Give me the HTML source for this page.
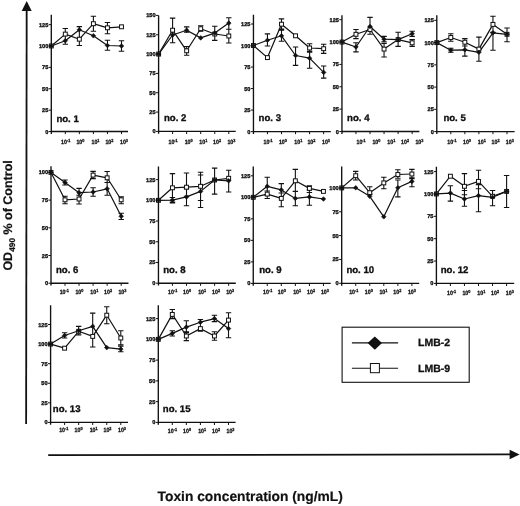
<!DOCTYPE html>
<html><head><meta charset="utf-8">
<style>
html,body{margin:0;padding:0;background:#fff;}
body{width:520px;height:506px;overflow:hidden;}
svg{display:block;filter:blur(0.3px);}
text{font-family:"Liberation Sans",sans-serif;font-weight:bold;fill:#111;text-rendering:geometricPrecision;}
.ax{fill:none;stroke:#111;stroke-width:1.35;}
.tk{fill:none;stroke:#111;stroke-width:1;}
.eb{fill:none;stroke:#111;stroke-width:1.1;}
.ln{fill:none;stroke:#111;stroke-width:1.2;stroke-linejoin:round;}
.sq{fill:#fff;stroke:#111;stroke-width:1;}
.dm{fill:#111;stroke:#111;stroke-width:0.6;stroke-linejoin:round;}
.yl{font-size:5.6px;text-anchor:end;stroke:#111;stroke-width:0.35px;}
.xl{font-size:6.1px;stroke:#111;stroke-width:0.3px;}
.sp{font-size:4.4px;}
.pl{font-size:9.6px;stroke:#111;stroke-width:0.35px;}
.big{font-size:12.5px;stroke:#111;stroke-width:0.2px;}
.xlab{font-size:13.8px;stroke:#111;stroke-width:0.2px;}
.lg{font-size:10.5px;stroke:#111;stroke-width:0.3px;}
</style></head><body>
<svg width="520" height="506" viewBox="0 0 520 506">
<rect width="520" height="506" fill="#fff"/>
<!-- big axes -->
<path d="M26.68 11L26.12 424" stroke="#111" stroke-width="1.8" fill="none"/>
<path d="M26.7 0.9L31.7 11H21.7Z" fill="#111"/>
<path d="M48.2 455.1L510 454.4" stroke="#111" stroke-width="1.8" fill="none"/>
<path d="M519.6 454.4L509.6 449.8V459.2Z" fill="#111"/>
<text class="big" transform="translate(11.5 270.6) rotate(-90)">OD<tspan font-size="8.3px" dy="3">490</tspan><tspan dy="-3"> % of Control</tspan></text>
<text class="xlab" x="157.6" y="500.8">Toxin concentration (ng/mL)</text>
<!-- legend -->
<rect x="342.1" y="327.2" width="127.1" height="55.1" fill="none" stroke="#111" stroke-width="1.1"/>
<path d="M351.9 342.9H398.1" stroke="#111" stroke-width="1.4" fill="none"/><path d="M351.9 368.2H398.1" stroke="#111" stroke-width="1.05" fill="none"/>
<path d="M374.8 336.5L382 343.1L374.8 349.7L367.6 343.1Z" fill="#111"/>
<rect x="370.4" y="363.5" width="9" height="9.2" fill="#fff" stroke="#111" stroke-width="1"/>
<text class="lg" x="418.1" y="345.8">LMB-2</text>
<text class="lg" x="418.1" y="371.9">LMB-9</text>
<g><path d="M51.3 14.8V133.9M51.3 131.5H128" class="ax"/>
<path d="M48.7 131.5H51.3M48.7 110.12H51.3M48.7 88.74H51.3M48.7 67.36H51.3M48.7 45.98H51.3M48.7 24.6H51.3M65.3 131.5V134.1M79.35 131.5V134.1M93.4 131.5V134.1M107.45 131.5V134.1M121.5 131.5V134.1" class="tk"/>
<text x="48.3" y="133.5" class="yl">0</text>
<text x="48.3" y="112.12" class="yl">25</text>
<text x="48.3" y="90.74" class="yl">50</text>
<text x="48.3" y="69.36" class="yl">75</text>
<text x="48.3" y="47.98" class="yl">100</text>
<text x="48.3" y="26.6" class="yl">125</text>
<text transform="translate(61.1 143.7) scale(0.86 1)" class="xl">10<tspan class="sp" dy="-1.9">-1</tspan></text>
<text transform="translate(76.4 143.7) scale(0.86 1)" class="xl">10<tspan class="sp" dy="-1.9">0</tspan></text>
<text transform="translate(91.5 143.7) scale(0.86 1)" class="xl">10<tspan class="sp" dy="-1.9">1</tspan></text>
<text transform="translate(105.4 143.7) scale(0.86 1)" class="xl">10<tspan class="sp" dy="-1.9">2</tspan></text>
<text transform="translate(120 143.7) scale(0.86 1)" class="xl">10<tspan class="sp" dy="-1.9">3</tspan></text>
<text x="56.4" y="121.6" class="pl">no. 1</text>
<path d="M65.3 28.5V44.2M62.6 28.5H68M62.6 44.2H68M79.35 26.6V45.5M76.65 26.6H82.05M76.65 45.5H82.05M93.4 16.3V31.2M90.7 16.3H96.1M90.7 31.2H96.1M107.45 22.5V33.7M104.75 22.5H110.15M104.75 33.7H110.15M107.45 40.3V50.2M104.75 40.3H110.15M104.75 50.2H110.15M121.5 40.8V51.2M118.8 40.8H124.2M118.8 51.2H124.2" class="eb"/>
<path d="M51.3 45.98 L65.3 40.7 L79.35 29.8 L93.4 35.8 L107.45 45.5 L121.5 46" class="ln"/>
<path d="M51.3 45.98 L65.3 34.1 L79.35 39.2 L93.4 23.7 L107.45 27.8 L121.5 26.8" class="ln"/>
<rect x="49.35" y="44.03" width="3.9" height="3.9" class="sq"/>
<rect x="63.35" y="32.15" width="3.9" height="3.9" class="sq"/>
<rect x="77.4" y="37.25" width="3.9" height="3.9" class="sq"/>
<rect x="91.45" y="21.75" width="3.9" height="3.9" class="sq"/>
<rect x="105.5" y="25.85" width="3.9" height="3.9" class="sq"/>
<rect x="119.55" y="24.85" width="3.9" height="3.9" class="sq"/>
<path d="M51.3 43.68l2.3 2.3l-2.3 2.3l-2.3 -2.3z" class="dm"/>
<path d="M65.3 38.4l2.3 2.3l-2.3 2.3l-2.3 -2.3z" class="dm"/>
<path d="M79.35 27.5l2.3 2.3l-2.3 2.3l-2.3 -2.3z" class="dm"/>
<path d="M93.4 33.5l2.3 2.3l-2.3 2.3l-2.3 -2.3z" class="dm"/>
<path d="M107.45 43.2l2.3 2.3l-2.3 2.3l-2.3 -2.3z" class="dm"/>
<path d="M121.5 43.7l2.3 2.3l-2.3 2.3l-2.3 -2.3z" class="dm"/></g>
<g><path d="M158.6 15.4V133.8M158.6 131.4H235.7" class="ax"/>
<path d="M156 131.4H158.6M156 112.07H158.6M156 92.74H158.6M156 73.41H158.6M156 54.08H158.6M156 34.75H158.6M156 15.42H158.6M172.6 131.4V134M186.65 131.4V134M200.7 131.4V134M214.75 131.4V134M228.8 131.4V134" class="tk"/>
<text x="155.6" y="133.4" class="yl">0</text>
<text x="155.6" y="114.07" class="yl">25</text>
<text x="155.6" y="94.74" class="yl">50</text>
<text x="155.6" y="75.41" class="yl">75</text>
<text x="155.6" y="56.08" class="yl">100</text>
<text x="155.6" y="36.75" class="yl">125</text>
<text x="155.6" y="17.42" class="yl">150</text>
<text transform="translate(168.5 143.7) scale(0.86 1)" class="xl">10<tspan class="sp" dy="-1.9">-1</tspan></text>
<text transform="translate(184.7 143.7) scale(0.86 1)" class="xl">10<tspan class="sp" dy="-1.9">0</tspan></text>
<text transform="translate(199.3 143.7) scale(0.86 1)" class="xl">10<tspan class="sp" dy="-1.9">1</tspan></text>
<text transform="translate(213.1 143.7) scale(0.86 1)" class="xl">10<tspan class="sp" dy="-1.9">2</tspan></text>
<text transform="translate(227.4 143.7) scale(0.86 1)" class="xl">10<tspan class="sp" dy="-1.9">3</tspan></text>
<text x="164" y="121.3" class="pl">no. 2</text>
<path d="M172.6 18.1V42.7M169.9 18.1H175.3M169.9 42.7H175.3M186.65 26.9V32.1M183.95 26.9H189.35M183.95 32.1H189.35M186.65 46.5V55.2M183.95 46.5H189.35M183.95 55.2H189.35M200.7 25.8V31.2M198 25.8H203.4M198 31.2H203.4M214.75 26.3V40.4M212.05 26.3H217.45M212.05 40.4H217.45M228.8 17.7V29.2M226.1 17.7H231.5M226.1 29.2H231.5M228.8 29.2V43M226.1 29.2H231.5M226.1 43H231.5" class="eb"/>
<path d="M158.6 54.08 L172.6 35 L186.65 30.2 L200.7 37.9 L214.75 33.1 L228.8 23.1" class="ln"/>
<path d="M158.6 54.08 L172.6 30.2 L186.65 50.8 L200.7 28.7 L214.75 34 L228.8 36" class="ln"/>
<rect x="156.65" y="52.13" width="3.9" height="3.9" class="sq"/>
<rect x="170.65" y="28.25" width="3.9" height="3.9" class="sq"/>
<rect x="184.7" y="48.85" width="3.9" height="3.9" class="sq"/>
<rect x="198.75" y="26.75" width="3.9" height="3.9" class="sq"/>
<rect x="212.8" y="32.05" width="3.9" height="3.9" class="sq"/>
<rect x="226.85" y="34.05" width="3.9" height="3.9" class="sq"/>
<path d="M158.6 51.78l2.3 2.3l-2.3 2.3l-2.3 -2.3z" class="dm"/>
<path d="M172.6 32.7l2.3 2.3l-2.3 2.3l-2.3 -2.3z" class="dm"/>
<path d="M186.65 27.9l2.3 2.3l-2.3 2.3l-2.3 -2.3z" class="dm"/>
<path d="M200.7 35.6l2.3 2.3l-2.3 2.3l-2.3 -2.3z" class="dm"/>
<path d="M214.75 30.8l2.3 2.3l-2.3 2.3l-2.3 -2.3z" class="dm"/>
<path d="M228.8 20.8l2.3 2.3l-2.3 2.3l-2.3 -2.3z" class="dm"/></g>
<g><path d="M253.45 14.7V134M253.45 131.6H330.8" class="ax"/>
<path d="M250.85 131.6H253.45M250.85 110.08H253.45M250.85 88.56H253.45M250.85 67.04H253.45M250.85 45.52H253.45M250.85 24H253.45M267.45 131.6V134.2M281.5 131.6V134.2M295.55 131.6V134.2M309.6 131.6V134.2M323.65 131.6V134.2" class="tk"/>
<text x="250.45" y="133.6" class="yl">0</text>
<text x="250.45" y="112.08" class="yl">25</text>
<text x="250.45" y="90.56" class="yl">50</text>
<text x="250.45" y="69.04" class="yl">75</text>
<text x="250.45" y="47.52" class="yl">100</text>
<text x="250.45" y="26" class="yl">125</text>
<text transform="translate(263.5 143.7) scale(0.86 1)" class="xl">10<tspan class="sp" dy="-1.9">-1</tspan></text>
<text transform="translate(278.9 143.7) scale(0.86 1)" class="xl">10<tspan class="sp" dy="-1.9">0</tspan></text>
<text transform="translate(294.3 143.7) scale(0.86 1)" class="xl">10<tspan class="sp" dy="-1.9">1</tspan></text>
<text transform="translate(307.4 143.7) scale(0.86 1)" class="xl">10<tspan class="sp" dy="-1.9">2</tspan></text>
<text transform="translate(322 143.7) scale(0.86 1)" class="xl">10<tspan class="sp" dy="-1.9">3</tspan></text>
<text x="258.6" y="121" class="pl">no. 3</text>
<path d="M267.45 33.9V46M264.75 33.9H270.15M264.75 46H270.15M281.5 18.9V29M278.8 18.9H284.2M278.8 29H284.2M281.5 30.1V41.3M278.8 30.1H284.2M278.8 41.3H284.2M295.55 47V65.4M292.85 47H298.25M292.85 65.4H298.25M309.6 43.8V52.3M306.9 43.8H312.3M306.9 52.3H312.3M309.6 51.3V68.2M306.9 51.3H312.3M306.9 68.2H312.3M323.65 44.3V53.4M320.95 44.3H326.35M320.95 53.4H326.35M323.65 66V78.1M320.95 66H326.35M320.95 78.1H326.35" class="eb"/>
<path d="M253.45 45.52 L267.45 40.3 L281.5 35.8 L295.55 55.5 L309.6 58.2 L323.65 72.4" class="ln"/>
<path d="M253.45 45.52 L267.45 57.6 L281.5 24.2 L295.55 35.8 L309.6 48 L323.65 48.7" class="ln"/>
<rect x="251.5" y="43.57" width="3.9" height="3.9" class="sq"/>
<rect x="265.5" y="55.65" width="3.9" height="3.9" class="sq"/>
<rect x="279.55" y="22.25" width="3.9" height="3.9" class="sq"/>
<rect x="293.6" y="33.85" width="3.9" height="3.9" class="sq"/>
<rect x="307.65" y="46.05" width="3.9" height="3.9" class="sq"/>
<rect x="321.7" y="46.75" width="3.9" height="3.9" class="sq"/>
<path d="M253.45 43.22l2.3 2.3l-2.3 2.3l-2.3 -2.3z" class="dm"/>
<path d="M267.45 38l2.3 2.3l-2.3 2.3l-2.3 -2.3z" class="dm"/>
<path d="M281.5 33.5l2.3 2.3l-2.3 2.3l-2.3 -2.3z" class="dm"/>
<path d="M295.55 53.2l2.3 2.3l-2.3 2.3l-2.3 -2.3z" class="dm"/>
<path d="M309.6 55.9l2.3 2.3l-2.3 2.3l-2.3 -2.3z" class="dm"/>
<path d="M323.65 70.1l2.3 2.3l-2.3 2.3l-2.3 -2.3z" class="dm"/></g>
<g><path d="M341.95 15.3V133.9M341.95 131.5H419.4" class="ax"/>
<path d="M339.35 131.5H341.95M339.35 109.14H341.95M339.35 86.78H341.95M339.35 64.42H341.95M339.35 42.06H341.95M339.35 19.7H341.95M355.95 131.5V134.1M370 131.5V134.1M384.05 131.5V134.1M398.1 131.5V134.1M412.15 131.5V134.1" class="tk"/>
<text x="338.95" y="133.5" class="yl">0</text>
<text x="338.95" y="111.14" class="yl">25</text>
<text x="338.95" y="88.78" class="yl">50</text>
<text x="338.95" y="66.42" class="yl">75</text>
<text x="338.95" y="44.06" class="yl">100</text>
<text x="338.95" y="21.7" class="yl">125</text>
<text transform="translate(356.5 143.7) scale(0.86 1)" class="xl">10<tspan class="sp" dy="-1.9">-1</tspan></text>
<text transform="translate(372.4 143.7) scale(0.86 1)" class="xl">10<tspan class="sp" dy="-1.9">0</tspan></text>
<text transform="translate(387.3 143.7) scale(0.86 1)" class="xl">10<tspan class="sp" dy="-1.9">1</tspan></text>
<text transform="translate(401.1 143.7) scale(0.86 1)" class="xl">10<tspan class="sp" dy="-1.9">2</tspan></text>
<text transform="translate(415.4 143.7) scale(0.86 1)" class="xl">10<tspan class="sp" dy="-1.9">3</tspan></text>
<text x="347.1" y="121" class="pl">no. 4</text>
<path d="M355.95 29.5V38.6M353.25 29.5H358.65M353.25 38.6H358.65M355.95 42.8V51.9M353.25 42.8H358.65M353.25 51.9H358.65M370 17.4V34.3M367.3 17.4H372.7M367.3 34.3H372.7M384.05 36.4V41.7M381.35 36.4H386.75M381.35 41.7H386.75M384.05 43.4V57M381.35 43.4H386.75M381.35 57H386.75M398.1 32.2V46.4M395.4 32.2H400.8M395.4 46.4H400.8M412.15 31.2V36.4M409.45 31.2H414.85M409.45 36.4H414.85M412.15 39.6V46.4M409.45 39.6H414.85M409.45 46.4H414.85" class="eb"/>
<path d="M341.95 42.06 L355.95 47 L370 26.5 L384.05 39.2 L398.1 39.6 L412.15 33.7" class="ln"/>
<path d="M341.95 42.06 L355.95 34.3 L370 29.5 L384.05 49.1 L398.1 39.6 L412.15 42.8" class="ln"/>
<rect x="340" y="40.11" width="3.9" height="3.9" class="sq"/>
<rect x="354" y="32.35" width="3.9" height="3.9" class="sq"/>
<rect x="368.05" y="27.55" width="3.9" height="3.9" class="sq"/>
<rect x="382.1" y="47.15" width="3.9" height="3.9" class="sq"/>
<rect x="396.15" y="37.65" width="3.9" height="3.9" class="sq"/>
<rect x="410.2" y="40.85" width="3.9" height="3.9" class="sq"/>
<path d="M341.95 39.76l2.3 2.3l-2.3 2.3l-2.3 -2.3z" class="dm"/>
<path d="M355.95 44.7l2.3 2.3l-2.3 2.3l-2.3 -2.3z" class="dm"/>
<path d="M370 24.2l2.3 2.3l-2.3 2.3l-2.3 -2.3z" class="dm"/>
<path d="M384.05 36.9l2.3 2.3l-2.3 2.3l-2.3 -2.3z" class="dm"/>
<path d="M398.1 37.3l2.3 2.3l-2.3 2.3l-2.3 -2.3z" class="dm"/>
<path d="M412.15 31.4l2.3 2.3l-2.3 2.3l-2.3 -2.3z" class="dm"/></g>
<g><path d="M436.8 15.3V134M436.8 131.6H514.6" class="ax"/>
<path d="M434.2 131.6H436.8M434.2 109.35H436.8M434.2 87.1H436.8M434.2 64.85H436.8M434.2 42.6H436.8M434.2 20.35H436.8M450.8 131.6V134.2M464.85 131.6V134.2M478.9 131.6V134.2M492.95 131.6V134.2M507 131.6V134.2" class="tk"/>
<text x="433.8" y="133.6" class="yl">0</text>
<text x="433.8" y="111.35" class="yl">25</text>
<text x="433.8" y="89.1" class="yl">50</text>
<text x="433.8" y="66.85" class="yl">75</text>
<text x="433.8" y="44.6" class="yl">100</text>
<text x="433.8" y="22.35" class="yl">125</text>
<text transform="translate(447.3 143.7) scale(0.86 1)" class="xl">10<tspan class="sp" dy="-1.9">-1</tspan></text>
<text transform="translate(463 143.7) scale(0.86 1)" class="xl">10<tspan class="sp" dy="-1.9">0</tspan></text>
<text transform="translate(477.8 143.7) scale(0.86 1)" class="xl">10<tspan class="sp" dy="-1.9">1</tspan></text>
<text transform="translate(491.6 143.7) scale(0.86 1)" class="xl">10<tspan class="sp" dy="-1.9">2</tspan></text>
<text transform="translate(505.8 143.7) scale(0.86 1)" class="xl">10<tspan class="sp" dy="-1.9">3</tspan></text>
<text x="443.4" y="121" class="pl">no. 5</text>
<path d="M450.8 33.7V41.3M448.1 33.7H453.5M448.1 41.3H453.5M450.8 48.3V52.2M448.1 48.3H453.5M448.1 52.2H453.5M464.85 38.6V46M462.15 38.6H467.55M462.15 46H467.55M464.85 46V56.1M462.15 46H467.55M462.15 56.1H467.55M478.9 37.1V61.2M476.2 37.1H481.6M476.2 61.2H481.6M492.95 16.3V32.2M490.25 16.3H495.65M490.25 32.2H495.65M492.95 32.8V50.2M490.25 32.8H495.65M490.25 50.2H495.65M507 28V41.7M504.3 28H509.7M504.3 41.7H509.7" class="eb"/>
<path d="M436.8 42.6 L450.8 50.2 L464.85 49.8 L478.9 52.3 L492.95 32.8 L507 34.3" class="ln"/>
<path d="M436.8 42.6 L450.8 37.5 L464.85 42.2 L478.9 49.1 L492.95 24.4 L507 34.3" class="ln"/>
<rect x="434.85" y="40.65" width="3.9" height="3.9" class="sq"/>
<rect x="448.85" y="35.55" width="3.9" height="3.9" class="sq"/>
<rect x="462.9" y="40.25" width="3.9" height="3.9" class="sq"/>
<rect x="476.95" y="47.15" width="3.9" height="3.9" class="sq"/>
<rect x="491" y="22.45" width="3.9" height="3.9" class="sq"/>
<rect x="505.05" y="32.35" width="3.9" height="3.9" class="sq"/>
<path d="M436.8 40.3l2.3 2.3l-2.3 2.3l-2.3 -2.3z" class="dm"/>
<path d="M450.8 47.9l2.3 2.3l-2.3 2.3l-2.3 -2.3z" class="dm"/>
<path d="M464.85 47.5l2.3 2.3l-2.3 2.3l-2.3 -2.3z" class="dm"/>
<path d="M478.9 50l2.3 2.3l-2.3 2.3l-2.3 -2.3z" class="dm"/>
<path d="M492.95 30.5l2.3 2.3l-2.3 2.3l-2.3 -2.3z" class="dm"/>
<path d="M507 32l2.3 2.3l-2.3 2.3l-2.3 -2.3z" class="dm"/></g>
<g><path d="M51 166.3V285.6M51 283.2H128.5" class="ax"/>
<path d="M48.4 283.2H51M48.4 255.5H51M48.4 227.8H51M48.4 200.1H51M48.4 172.4H51M65 283.2V285.8M79.05 283.2V285.8M93.1 283.2V285.8M107.15 283.2V285.8M121.2 283.2V285.8" class="tk"/>
<text x="48" y="285.2" class="yl">0</text>
<text x="48" y="257.5" class="yl">25</text>
<text x="48" y="229.8" class="yl">50</text>
<text x="48" y="202.1" class="yl">75</text>
<text x="48" y="174.4" class="yl">100</text>
<text transform="translate(59.7 293.7) scale(0.86 1)" class="xl">10<tspan class="sp" dy="-1.9">-1</tspan></text>
<text transform="translate(75.4 293.7) scale(0.86 1)" class="xl">10<tspan class="sp" dy="-1.9">0</tspan></text>
<text transform="translate(90.3 293.7) scale(0.86 1)" class="xl">10<tspan class="sp" dy="-1.9">1</tspan></text>
<text transform="translate(104.1 293.7) scale(0.86 1)" class="xl">10<tspan class="sp" dy="-1.9">2</tspan></text>
<text transform="translate(118.4 293.7) scale(0.86 1)" class="xl">10<tspan class="sp" dy="-1.9">3</tspan></text>
<text x="56" y="273.2" class="pl">no. 6</text>
<path d="M65 180V185M62.3 180H67.7M62.3 185H67.7M65 196.3V203.7M62.3 196.3H67.7M62.3 203.7H67.7M79.05 188.4V195.2M76.35 188.4H81.75M76.35 195.2H81.75M79.05 195.2V204M76.35 195.2H81.75M76.35 204H81.75M93.1 171.4V178.6M90.4 171.4H95.8M90.4 178.6H95.8M93.1 187.8V196.3M90.4 187.8H95.8M90.4 196.3H95.8M107.15 171.5V182.5M104.45 171.5H109.85M104.45 182.5H109.85M107.15 182.5V195.2M104.45 182.5H109.85M104.45 195.2H109.85M121.2 196.9V203.7M118.5 196.9H123.9M118.5 203.7H123.9M121.2 213.2V219.5M118.5 213.2H123.9M118.5 219.5H123.9" class="eb"/>
<path d="M51 172.4 L65 182.5 L79.05 192.7 L93.1 192 L107.15 188.8 L121.2 216.3" class="ln"/>
<path d="M51 172.4 L65 199.8 L79.05 199 L93.1 175.1 L107.15 177.8 L121.2 199.8" class="ln"/>
<rect x="49.05" y="170.45" width="3.9" height="3.9" class="sq"/>
<rect x="63.05" y="197.85" width="3.9" height="3.9" class="sq"/>
<rect x="77.1" y="197.05" width="3.9" height="3.9" class="sq"/>
<rect x="91.15" y="173.15" width="3.9" height="3.9" class="sq"/>
<rect x="105.2" y="175.85" width="3.9" height="3.9" class="sq"/>
<rect x="119.25" y="197.85" width="3.9" height="3.9" class="sq"/>
<path d="M51 170.1l2.3 2.3l-2.3 2.3l-2.3 -2.3z" class="dm"/>
<path d="M65 180.2l2.3 2.3l-2.3 2.3l-2.3 -2.3z" class="dm"/>
<path d="M79.05 190.4l2.3 2.3l-2.3 2.3l-2.3 -2.3z" class="dm"/>
<path d="M93.1 189.7l2.3 2.3l-2.3 2.3l-2.3 -2.3z" class="dm"/>
<path d="M107.15 186.5l2.3 2.3l-2.3 2.3l-2.3 -2.3z" class="dm"/>
<path d="M121.2 214l2.3 2.3l-2.3 2.3l-2.3 -2.3z" class="dm"/></g>
<g><path d="M158.45 166.6V285.6M158.45 283.2H235.8" class="ax"/>
<path d="M155.85 283.2H158.45M155.85 262.48H158.45M155.85 241.76H158.45M155.85 221.04H158.45M155.85 200.32H158.45M155.85 179.6H158.45M172.45 283.2V285.8M186.5 283.2V285.8M200.55 283.2V285.8M214.6 283.2V285.8M228.65 283.2V285.8" class="tk"/>
<text x="155.45" y="285.2" class="yl">0</text>
<text x="155.45" y="264.48" class="yl">25</text>
<text x="155.45" y="243.76" class="yl">50</text>
<text x="155.45" y="223.04" class="yl">75</text>
<text x="155.45" y="202.32" class="yl">100</text>
<text x="155.45" y="181.6" class="yl">125</text>
<text transform="translate(168.1 293.9) scale(0.86 1)" class="xl">10<tspan class="sp" dy="-1.9">-1</tspan></text>
<text transform="translate(183.1 293.9) scale(0.86 1)" class="xl">10<tspan class="sp" dy="-1.9">0</tspan></text>
<text transform="translate(198.2 293.9) scale(0.86 1)" class="xl">10<tspan class="sp" dy="-1.9">1</tspan></text>
<text transform="translate(212.1 293.9) scale(0.86 1)" class="xl">10<tspan class="sp" dy="-1.9">2</tspan></text>
<text transform="translate(226.2 293.9) scale(0.86 1)" class="xl">10<tspan class="sp" dy="-1.9">3</tspan></text>
<text x="163.2" y="273.2" class="pl">no. 8</text>
<path d="M172.45 173.6V202M169.75 173.6H175.15M169.75 202H175.15M172.45 197.5V203M169.75 197.5H175.15M169.75 203H175.15M186.5 173V196.3M183.8 173H189.2M183.8 196.3H189.2M186.5 188.8V205.8M183.8 188.8H189.2M183.8 205.8H189.2M200.55 172.3V200.5M197.85 172.3H203.25M197.85 200.5H203.25M200.55 175V207.5M197.85 175H203.25M197.85 207.5H203.25M214.6 168.1V194.1M211.9 168.1H217.3M211.9 194.1H217.3M228.65 170.2V192M225.95 170.2H231.35M225.95 192H231.35" class="eb"/>
<path d="M158.45 200.32 L172.45 200.1 L186.5 196.9 L200.55 191.4 L214.6 180 L228.65 180.8" class="ln"/>
<path d="M158.45 200.32 L172.45 187.8 L186.5 187.2 L200.55 186.3 L214.6 180 L228.65 178.3" class="ln"/>
<rect x="156.5" y="198.37" width="3.9" height="3.9" class="sq"/>
<rect x="170.5" y="185.85" width="3.9" height="3.9" class="sq"/>
<rect x="184.55" y="185.25" width="3.9" height="3.9" class="sq"/>
<rect x="198.6" y="184.35" width="3.9" height="3.9" class="sq"/>
<rect x="212.65" y="178.05" width="3.9" height="3.9" class="sq"/>
<rect x="226.7" y="176.35" width="3.9" height="3.9" class="sq"/>
<path d="M158.45 198.02l2.3 2.3l-2.3 2.3l-2.3 -2.3z" class="dm"/>
<path d="M172.45 197.8l2.3 2.3l-2.3 2.3l-2.3 -2.3z" class="dm"/>
<path d="M186.5 194.6l2.3 2.3l-2.3 2.3l-2.3 -2.3z" class="dm"/>
<path d="M200.55 189.1l2.3 2.3l-2.3 2.3l-2.3 -2.3z" class="dm"/>
<path d="M214.6 177.7l2.3 2.3l-2.3 2.3l-2.3 -2.3z" class="dm"/>
<path d="M228.65 178.5l2.3 2.3l-2.3 2.3l-2.3 -2.3z" class="dm"/></g>
<g><path d="M253.25 166.6V285.8M253.25 283.4H330.7" class="ax"/>
<path d="M250.65 283.4H253.25M250.65 261.88H253.25M250.65 240.36H253.25M250.65 218.84H253.25M250.65 197.32H253.25M250.65 175.8H253.25M267.25 283.4V286M281.3 283.4V286M295.35 283.4V286M309.4 283.4V286M323.45 283.4V286" class="tk"/>
<text x="250.25" y="285.4" class="yl">0</text>
<text x="250.25" y="263.88" class="yl">25</text>
<text x="250.25" y="242.36" class="yl">50</text>
<text x="250.25" y="220.84" class="yl">75</text>
<text x="250.25" y="199.32" class="yl">100</text>
<text x="250.25" y="177.8" class="yl">125</text>
<text transform="translate(263.1 294.1) scale(0.86 1)" class="xl">10<tspan class="sp" dy="-1.9">-1</tspan></text>
<text transform="translate(277.8 294.1) scale(0.86 1)" class="xl">10<tspan class="sp" dy="-1.9">0</tspan></text>
<text transform="translate(293.2 294.1) scale(0.86 1)" class="xl">10<tspan class="sp" dy="-1.9">1</tspan></text>
<text transform="translate(307.1 294.1) scale(0.86 1)" class="xl">10<tspan class="sp" dy="-1.9">2</tspan></text>
<text transform="translate(320.9 294.1) scale(0.86 1)" class="xl">10<tspan class="sp" dy="-1.9">3</tspan></text>
<text x="259.2" y="273" class="pl">no. 9</text>
<path d="M267.25 177.2V195.2M264.55 177.2H269.95M264.55 195.2H269.95M267.25 191V198.5M264.55 191H269.95M264.55 198.5H269.95M281.3 183.6V193M278.6 183.6H284M278.6 193H284M281.3 193V206.8M278.6 193H284M278.6 206.8H284M295.35 169.4V191.4M292.65 169.4H298.05M292.65 191.4H298.05M295.35 191.4V205.8M292.65 191.4H298.05M292.65 205.8H298.05M309.4 185.7V192.5M306.7 185.7H312.1M306.7 192.5H312.1M309.4 189.9V205.3M306.7 189.9H312.1M306.7 205.3H312.1" class="eb"/>
<path d="M253.25 197.32 L267.25 186.3 L281.3 189.9 L295.35 198.4 L309.4 196.9 L323.45 199" class="ln"/>
<path d="M253.25 197.32 L267.25 194.1 L281.3 198.4 L295.35 180.8 L309.4 188.4 L323.45 191.4" class="ln"/>
<rect x="251.3" y="195.37" width="3.9" height="3.9" class="sq"/>
<rect x="265.3" y="192.15" width="3.9" height="3.9" class="sq"/>
<rect x="279.35" y="196.45" width="3.9" height="3.9" class="sq"/>
<rect x="293.4" y="178.85" width="3.9" height="3.9" class="sq"/>
<rect x="307.45" y="186.45" width="3.9" height="3.9" class="sq"/>
<rect x="321.5" y="189.45" width="3.9" height="3.9" class="sq"/>
<path d="M253.25 195.02l2.3 2.3l-2.3 2.3l-2.3 -2.3z" class="dm"/>
<path d="M267.25 184l2.3 2.3l-2.3 2.3l-2.3 -2.3z" class="dm"/>
<path d="M281.3 187.6l2.3 2.3l-2.3 2.3l-2.3 -2.3z" class="dm"/>
<path d="M295.35 196.1l2.3 2.3l-2.3 2.3l-2.3 -2.3z" class="dm"/>
<path d="M309.4 194.6l2.3 2.3l-2.3 2.3l-2.3 -2.3z" class="dm"/>
<path d="M323.45 196.7l2.3 2.3l-2.3 2.3l-2.3 -2.3z" class="dm"/></g>
<g><path d="M341.7 166.6V285.7M341.7 283.3H419.2" class="ax"/>
<path d="M339.1 283.3H341.7M339.1 259.45H341.7M339.1 235.6H341.7M339.1 211.75H341.7M339.1 187.9H341.7M355.7 283.3V285.9M369.75 283.3V285.9M383.8 283.3V285.9M397.85 283.3V285.9M411.9 283.3V285.9" class="tk"/>
<text x="338.7" y="285.3" class="yl">0</text>
<text x="338.7" y="261.45" class="yl">25</text>
<text x="338.7" y="237.6" class="yl">50</text>
<text x="338.7" y="213.75" class="yl">75</text>
<text x="338.7" y="189.9" class="yl">100</text>
<text transform="translate(349.2 294.1) scale(0.86 1)" class="xl">10<tspan class="sp" dy="-1.9">-1</tspan></text>
<text transform="translate(364.8 294.1) scale(0.86 1)" class="xl">10<tspan class="sp" dy="-1.9">0</tspan></text>
<text transform="translate(379.4 294.1) scale(0.86 1)" class="xl">10<tspan class="sp" dy="-1.9">1</tspan></text>
<text transform="translate(393.3 294.1) scale(0.86 1)" class="xl">10<tspan class="sp" dy="-1.9">2</tspan></text>
<text transform="translate(407.9 294.1) scale(0.86 1)" class="xl">10<tspan class="sp" dy="-1.9">3</tspan></text>
<text x="346.4" y="273.2" class="pl">no. 10</text>
<path d="M355.7 171.4V180M353 171.4H358.4M353 180H358.4M369.75 186.7V194.1M367.05 186.7H372.45M367.05 194.1H372.45M383.8 177.2V188.8M381.1 177.2H386.5M381.1 188.8H386.5M397.85 169.8V178.3M395.15 169.8H400.55M395.15 178.3H400.55M397.85 180V196.9M395.15 180H400.55M395.15 196.9H400.55M411.9 169.4V178.7M409.2 169.4H414.6M409.2 178.7H414.6M411.9 177.8V186.7M409.2 177.8H414.6M409.2 186.7H414.6" class="eb"/>
<path d="M341.7 187.9 L355.7 187.8 L369.75 196.3 L383.8 216.8 L397.85 187.8 L411.9 181.4" class="ln"/>
<path d="M341.7 187.9 L355.7 175.7 L369.75 192.7 L383.8 182.9 L397.85 174.5 L411.9 174" class="ln"/>
<rect x="339.75" y="185.95" width="3.9" height="3.9" class="sq"/>
<rect x="353.75" y="173.75" width="3.9" height="3.9" class="sq"/>
<rect x="367.8" y="190.75" width="3.9" height="3.9" class="sq"/>
<rect x="381.85" y="180.95" width="3.9" height="3.9" class="sq"/>
<rect x="395.9" y="172.55" width="3.9" height="3.9" class="sq"/>
<rect x="409.95" y="172.05" width="3.9" height="3.9" class="sq"/>
<path d="M341.7 185.6l2.3 2.3l-2.3 2.3l-2.3 -2.3z" class="dm"/>
<path d="M355.7 185.5l2.3 2.3l-2.3 2.3l-2.3 -2.3z" class="dm"/>
<path d="M369.75 194l2.3 2.3l-2.3 2.3l-2.3 -2.3z" class="dm"/>
<path d="M383.8 214.5l2.3 2.3l-2.3 2.3l-2.3 -2.3z" class="dm"/>
<path d="M397.85 185.5l2.3 2.3l-2.3 2.3l-2.3 -2.3z" class="dm"/>
<path d="M411.9 179.1l2.3 2.3l-2.3 2.3l-2.3 -2.3z" class="dm"/></g>
<g><path d="M436.4 166.8V285.8M436.4 283.4H514.2" class="ax"/>
<path d="M433.8 283.4H436.4M433.8 261.04H436.4M433.8 238.68H436.4M433.8 216.32H436.4M433.8 193.96H436.4M433.8 171.6H436.4M450.4 283.4V286M464.45 283.4V286M478.5 283.4V286M492.55 283.4V286M506.6 283.4V286" class="tk"/>
<text x="433.4" y="285.4" class="yl">0</text>
<text x="433.4" y="263.04" class="yl">25</text>
<text x="433.4" y="240.68" class="yl">50</text>
<text x="433.4" y="218.32" class="yl">75</text>
<text x="433.4" y="195.96" class="yl">100</text>
<text x="433.4" y="173.6" class="yl">125</text>
<text transform="translate(447 294.5) scale(0.86 1)" class="xl">10<tspan class="sp" dy="-1.9">-1</tspan></text>
<text transform="translate(462.4 294.5) scale(0.86 1)" class="xl">10<tspan class="sp" dy="-1.9">0</tspan></text>
<text transform="translate(477.3 294.5) scale(0.86 1)" class="xl">10<tspan class="sp" dy="-1.9">1</tspan></text>
<text transform="translate(491.1 294.5) scale(0.86 1)" class="xl">10<tspan class="sp" dy="-1.9">2</tspan></text>
<text transform="translate(505.8 294.5) scale(0.86 1)" class="xl">10<tspan class="sp" dy="-1.9">3</tspan></text>
<text x="440.7" y="273.2" class="pl">no. 12</text>
<path d="M450.4 185.7V201.1M447.7 185.7H453.1M447.7 201.1H453.1M464.45 173.6V194.8M461.75 173.6H467.15M461.75 194.8H467.15M464.45 190.5V206.2M461.75 190.5H467.15M461.75 206.2H467.15M478.5 170.2V188.8M475.8 170.2H481.2M475.8 188.8H481.2M478.5 184.6V211.7M475.8 184.6H481.2M475.8 211.7H481.2M492.55 190.5V205.8M489.85 190.5H495.25M489.85 205.8H495.25M506.6 175.5V207.5M503.9 175.5H509.3M503.9 207.5H509.3" class="eb"/>
<path d="M436.4 193.96 L450.4 193.1 L464.45 199 L478.5 195.6 L492.55 197.3 L506.6 191.4" class="ln"/>
<path d="M436.4 193.96 L450.4 176.2 L464.45 186.3 L478.5 181.4 L492.55 196.3 L506.6 191.4" class="ln"/>
<rect x="434.45" y="192.01" width="3.9" height="3.9" class="sq"/>
<rect x="448.45" y="174.25" width="3.9" height="3.9" class="sq"/>
<rect x="462.5" y="184.35" width="3.9" height="3.9" class="sq"/>
<rect x="476.55" y="179.45" width="3.9" height="3.9" class="sq"/>
<rect x="490.6" y="194.35" width="3.9" height="3.9" class="sq"/>
<rect x="504.65" y="189.45" width="3.9" height="3.9" class="sq"/>
<path d="M436.4 191.66l2.3 2.3l-2.3 2.3l-2.3 -2.3z" class="dm"/>
<path d="M450.4 190.8l2.3 2.3l-2.3 2.3l-2.3 -2.3z" class="dm"/>
<path d="M464.45 196.7l2.3 2.3l-2.3 2.3l-2.3 -2.3z" class="dm"/>
<path d="M478.5 193.3l2.3 2.3l-2.3 2.3l-2.3 -2.3z" class="dm"/>
<path d="M492.55 195l2.3 2.3l-2.3 2.3l-2.3 -2.3z" class="dm"/>
<path d="M506.6 189.1l2.3 2.3l-2.3 2.3l-2.3 -2.3z" class="dm"/></g>
<g><path d="M50.6 305.3V424.8M50.6 422.4H128" class="ax"/>
<path d="M48 422.4H50.6M48 402.82H50.6M48 383.24H50.6M48 363.66H50.6M48 344.08H50.6M48 324.5H50.6M64.6 422.4V425M78.65 422.4V425M92.7 422.4V425M106.75 422.4V425M120.8 422.4V425" class="tk"/>
<text x="47.6" y="424.4" class="yl">0</text>
<text x="47.6" y="404.82" class="yl">25</text>
<text x="47.6" y="385.24" class="yl">50</text>
<text x="47.6" y="365.66" class="yl">75</text>
<text x="47.6" y="346.08" class="yl">100</text>
<text x="47.6" y="326.5" class="yl">125</text>
<text transform="translate(59.2 431.5) scale(0.86 1)" class="xl">10<tspan class="sp" dy="-1.9">-1</tspan></text>
<text transform="translate(74.6 431.5) scale(0.86 1)" class="xl">10<tspan class="sp" dy="-1.9">0</tspan></text>
<text transform="translate(89.7 431.5) scale(0.86 1)" class="xl">10<tspan class="sp" dy="-1.9">1</tspan></text>
<text transform="translate(103.5 431.5) scale(0.86 1)" class="xl">10<tspan class="sp" dy="-1.9">2</tspan></text>
<text transform="translate(118 431.5) scale(0.86 1)" class="xl">10<tspan class="sp" dy="-1.9">3</tspan></text>
<text x="52.8" y="411.8" class="pl">no. 13</text>
<path d="M64.6 332.8V338M61.9 332.8H67.3M61.9 338H67.3M78.65 326.4V334.9M75.95 326.4H81.35M75.95 334.9H81.35M92.7 313.1V347M90 313.1H95.4M90 347H95.4M106.75 306.8V323.7M104.05 306.8H109.45M104.05 323.7H109.45M120.8 330.7V344.8M118.1 330.7H123.5M118.1 344.8H123.5M120.8 346.1V351.8M118.1 346.1H123.5M118.1 351.8H123.5" class="eb"/>
<path d="M50.6 344.08 L64.6 335.5 L78.65 330.7 L92.7 326.4 L106.75 347.6 L120.8 349.1" class="ln"/>
<path d="M50.6 344.08 L64.6 348.2 L78.65 331.3 L92.7 336.4 L106.75 315.2 L120.8 338" class="ln"/>
<rect x="48.65" y="342.13" width="3.9" height="3.9" class="sq"/>
<rect x="62.65" y="346.25" width="3.9" height="3.9" class="sq"/>
<rect x="76.7" y="329.35" width="3.9" height="3.9" class="sq"/>
<rect x="90.75" y="334.45" width="3.9" height="3.9" class="sq"/>
<rect x="104.8" y="313.25" width="3.9" height="3.9" class="sq"/>
<rect x="118.85" y="336.05" width="3.9" height="3.9" class="sq"/>
<path d="M50.6 341.78l2.3 2.3l-2.3 2.3l-2.3 -2.3z" class="dm"/>
<path d="M64.6 333.2l2.3 2.3l-2.3 2.3l-2.3 -2.3z" class="dm"/>
<path d="M78.65 328.4l2.3 2.3l-2.3 2.3l-2.3 -2.3z" class="dm"/>
<path d="M92.7 324.1l2.3 2.3l-2.3 2.3l-2.3 -2.3z" class="dm"/>
<path d="M106.75 345.3l2.3 2.3l-2.3 2.3l-2.3 -2.3z" class="dm"/>
<path d="M120.8 346.8l2.3 2.3l-2.3 2.3l-2.3 -2.3z" class="dm"/></g>
<g><path d="M158.3 305.3V424.8M158.3 422.4H235.6" class="ax"/>
<path d="M155.7 422.4H158.3M155.7 401.64H158.3M155.7 380.88H158.3M155.7 360.12H158.3M155.7 339.36H158.3M155.7 318.6H158.3M172.3 422.4V425M186.35 422.4V425M200.4 422.4V425M214.45 422.4V425M228.5 422.4V425" class="tk"/>
<text x="155.3" y="424.4" class="yl">0</text>
<text x="155.3" y="403.64" class="yl">25</text>
<text x="155.3" y="382.88" class="yl">50</text>
<text x="155.3" y="362.12" class="yl">75</text>
<text x="155.3" y="341.36" class="yl">100</text>
<text x="155.3" y="320.6" class="yl">125</text>
<text transform="translate(167.8 432.7) scale(0.86 1)" class="xl">10<tspan class="sp" dy="-1.9">-1</tspan></text>
<text transform="translate(183.1 432.7) scale(0.86 1)" class="xl">10<tspan class="sp" dy="-1.9">0</tspan></text>
<text transform="translate(198.2 432.7) scale(0.86 1)" class="xl">10<tspan class="sp" dy="-1.9">1</tspan></text>
<text transform="translate(212.1 432.7) scale(0.86 1)" class="xl">10<tspan class="sp" dy="-1.9">2</tspan></text>
<text transform="translate(226.5 432.7) scale(0.86 1)" class="xl">10<tspan class="sp" dy="-1.9">3</tspan></text>
<text x="162.8" y="411.8" class="pl">no. 15</text>
<path d="M172.3 309.5V318.6M169.6 309.5H175M169.6 318.6H175M172.3 330.7V336M169.6 330.7H175M169.6 336H175M186.35 320.7V332.8M183.65 320.7H189.05M183.65 332.8H189.05M186.35 331.7V340.6M183.65 331.7H189.05M183.65 340.6H189.05M200.4 319.5V331.3M197.7 319.5H203.1M197.7 331.3H203.1M214.45 315.2V321.6M211.75 315.2H217.15M211.75 321.6H217.15M214.45 331.7V340.2M211.75 331.7H217.15M211.75 340.2H217.15M228.5 312.7V337.7M225.8 312.7H231.2M225.8 337.7H231.2" class="eb"/>
<path d="M158.3 339.36 L172.3 333.4 L186.35 327.1 L200.4 322.2 L214.45 318.6 L228.5 328.6" class="ln"/>
<path d="M158.3 339.36 L172.3 314.4 L186.35 336 L200.4 328.6 L214.45 336 L228.5 320.1" class="ln"/>
<rect x="156.35" y="337.41" width="3.9" height="3.9" class="sq"/>
<rect x="170.35" y="312.45" width="3.9" height="3.9" class="sq"/>
<rect x="184.4" y="334.05" width="3.9" height="3.9" class="sq"/>
<rect x="198.45" y="326.65" width="3.9" height="3.9" class="sq"/>
<rect x="212.5" y="334.05" width="3.9" height="3.9" class="sq"/>
<rect x="226.55" y="318.15" width="3.9" height="3.9" class="sq"/>
<path d="M158.3 337.06l2.3 2.3l-2.3 2.3l-2.3 -2.3z" class="dm"/>
<path d="M172.3 331.1l2.3 2.3l-2.3 2.3l-2.3 -2.3z" class="dm"/>
<path d="M186.35 324.8l2.3 2.3l-2.3 2.3l-2.3 -2.3z" class="dm"/>
<path d="M200.4 319.9l2.3 2.3l-2.3 2.3l-2.3 -2.3z" class="dm"/>
<path d="M214.45 316.3l2.3 2.3l-2.3 2.3l-2.3 -2.3z" class="dm"/>
<path d="M228.5 326.3l2.3 2.3l-2.3 2.3l-2.3 -2.3z" class="dm"/></g>
</svg>
</body></html>
